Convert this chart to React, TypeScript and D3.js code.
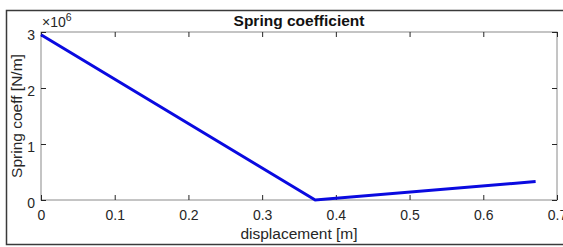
import React, { useRef, useEffect } from 'react';
import * as d3 from 'd3';

const displacement = [0, 0.372, 0.671];
const springCoeff = [2.95e6, 0, 0.33e6];
const xTicks = [0, 0.1, 0.2, 0.3, 0.4, 0.5, 0.6, 0.7];
const yTicks = [0, 1e6, 2e6, 3e6];

const App: React.FC = () => {
  const chartRef = useRef<SVGSVGElement | null>(null);

  useEffect(() => {
    if (!chartRef.current) return;
    d3.select(chartRef.current).selectAll('*').remove();

    const width = 563;
    const height = 247;
    const margin = { top: 32, right: 6, bottom: 47, left: 41 };
    const innerWidth = width - margin.left - margin.right;
    const innerHeight = height - margin.top - margin.bottom;
    const font = 'Liberation Sans, Arial, sans-serif';
    const axisColor = '#262626';

    const svg = d3.select(chartRef.current)
      .attr('width', width)
      .attr('height', height);

    svg.append('rect')
      .attr('width', width)
      .attr('height', height)
      .attr('fill', '#fff');

    // Outer frame
    svg.append('rect')
      .attr('x', 6.5)
      .attr('y', 10.5)
      .attr('width', 580)
      .attr('height', 234)
      .attr('fill', 'none')
      .attr('stroke', '#3a3a3a')
      .attr('stroke-width', 1.5);

    const g = svg.append('g')
      .attr('transform', `translate(${margin.left},${margin.top})`);

    const x = d3.scaleLinear().domain([0, 0.7]).range([0, innerWidth]);
    const y = d3.scaleLinear().domain([0, 3e6]).range([innerHeight, 0]);

    // Axes box
    g.append('rect')
      .attr('width', innerWidth)
      .attr('height', innerHeight)
      .attr('fill', 'none')
      .attr('stroke', '#8a8a8a')
      .attr('stroke-width', 1);

    const styleAxis = (sel: d3.Selection<SVGGElement, unknown, null, undefined>) => {
      sel.select('.domain').remove();
      sel.selectAll('.tick line').attr('stroke', axisColor);
      sel.selectAll('.tick text')
        .attr('fill', axisColor)
        .attr('font-family', font)
        .attr('font-size', 14);
    };

    g.append('g')
      .attr('transform', `translate(0,${innerHeight})`)
      .call(d3.axisBottom(x).tickValues(xTicks).tickSizeInner(-5).tickSizeOuter(0).tickPadding(10).tickFormat(d3.format('.1~f')))
      .call(styleAxis);

    g.append('g')
      .call(d3.axisTop(x).tickValues(xTicks).tickSizeInner(-5).tickSizeOuter(0).tickFormat(() => ''))
      .call(styleAxis);

    g.append('g')
      .call(d3.axisLeft(y).tickValues(yTicks).tickSizeInner(-5).tickSizeOuter(0).tickPadding(6).tickFormat(d => `${(d as number) / 1e6}`))
      .call(styleAxis)
      .selectAll('.tick text')
      .attr('dy', '0.5em');

    g.append('g')
      .attr('transform', `translate(${innerWidth},0)`)
      .call(d3.axisRight(y).tickValues(yTicks).tickSizeInner(-5).tickSizeOuter(0).tickFormat(() => ''))
      .call(styleAxis);

    // Exponent label
    const exp = g.append('text')
      .attr('x', 1)
      .attr('y', -5)
      .attr('fill', axisColor)
      .attr('font-family', font)
      .attr('font-size', 14);
    exp.append('tspan').text('\u00d710');
    exp.append('tspan').attr('dy', -6).attr('font-size', 10.5).text('6');

    // Line
    const data = displacement.map((d, i) => ({ x: d, y: springCoeff[i] }));
    g.append('path')
      .datum(data)
      .attr('fill', 'none')
      .attr('stroke', '#0a0ae0')
      .attr('stroke-width', 3)
      .attr('stroke-linejoin', 'miter')
      .attr('d', d3.line<{ x: number; y: number }>().x(d => x(d.x)).y(d => y(d.y)));

    // Title
    svg.append('text')
      .attr('x', margin.left + innerWidth / 2)
      .attr('y', 25.5)
      .attr('text-anchor', 'middle')
      .attr('font-family', font)
      .attr('font-weight', 'bold')
      .attr('font-size', 15.5)
      .attr('fill', '#111')
      .text('Spring coefficient');

    // Axis labels
    svg.append('text')
      .attr('x', margin.left + innerWidth / 2)
      .attr('y', 239)
      .attr('text-anchor', 'middle')
      .attr('font-family', font)
      .attr('font-size', 15.5)
      .attr('fill', axisColor)
      .text('displacement [m]');

    svg.append('text')
      .attr('transform', `translate(22,${margin.top + innerHeight / 2}) rotate(-90)`)
      .attr('text-anchor', 'middle')
      .attr('font-family', font)
      .attr('font-size', 15.5)
      .attr('fill', axisColor)
      .text('Spring coeff [N/m]');
  }, []);

  return (
    <div style={{ position: 'absolute', left: 0, top: 0 }}>
      <svg ref={chartRef} style={{ display: 'block' }} />
    </div>
  );
};

export default App;
